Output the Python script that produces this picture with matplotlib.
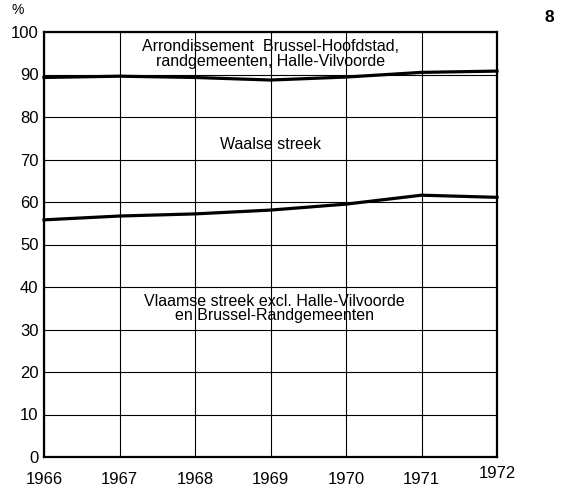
import matplotlib
matplotlib.use("Agg")
import matplotlib.pyplot as plt
import matplotlib.transforms as mtransforms

plt.rcParams['font.family'] = ['Liberation Sans', 'DejaVu Sans']

years = [1966, 1967, 1968, 1969, 1970, 1971, 1972]
brussel = [89.3, 89.6, 89.3, 88.7, 89.4, 90.5, 90.8]
vlaamse = [55.8, 56.7, 57.2, 58.1, 59.5, 61.6, 61.1]
yticks = [0, 10, 20, 30, 40, 50, 60, 70, 80, 90, 100]

fig = plt.figure(figsize=(5.67, 4.92), dpi=100)
ax = fig.add_axes([44/567, 35/492, 453/567, 425/492])
ax.set_xlim(1966, 1972)
ax.set_ylim(0, 100)
ax.set_yticks(yticks)
ax.set_xticks(years)
ax.grid(True, color='black', linewidth=0.8)
for s in ax.spines.values():
    s.set_linewidth(1.6)
ax.tick_params(length=0, labelsize=12)
ax.tick_params(axis='x', pad=10.5)
ax.tick_params(axis='y', pad=4)
ax.set_xticklabels([str(y) for y in years])
last = ax.get_xticklabels()[-1]
last.set_transform(last.get_transform() + mtransforms.ScaledTranslation(0, 6/100, fig.dpi_scale_trans))

ax.plot(years, brussel, color='black', linewidth=2.3, clip_on=False)
ax.plot(years, vlaamse, color='black', linewidth=2.3, clip_on=False)

ax.text(1969.0, 94.8, "Arrondissement  Brussel-Hoofdstad,\nrandgemeenten, Halle-Vilvoorde",
        ha='center', va='center', fontsize=11.5, linespacing=0.95)
ax.text(1969.0, 73.5, "Waalse streek", ha='center', va='center', fontsize=11.5)
ax.text(1969.05, 35.0, "Vlaamse streek excl. Halle-Vilvoorde\nen Brussel-Randgemeenten",
        ha='center', va='center', fontsize=11.5, linespacing=0.95)

fig.text(18/567, 1 - 10/492, "%", ha='center', va='center', fontsize=10)
fig.text(549/567, 1 - 17/492, "8", ha='center', va='center', fontsize=12.5, fontweight='bold')

fig.savefig("out.png", dpi=100)
